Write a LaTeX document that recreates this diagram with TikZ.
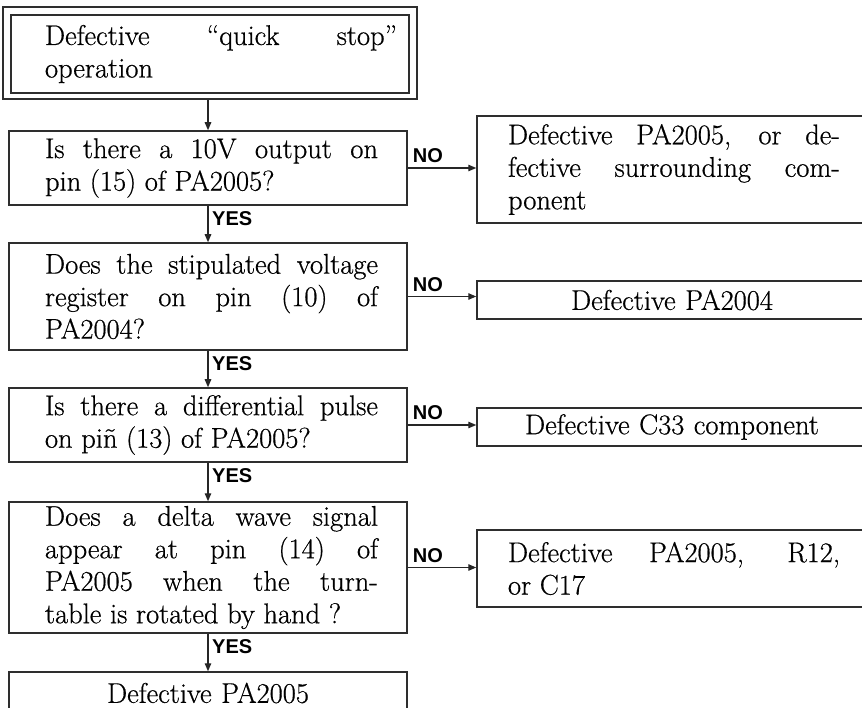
\documentclass[tikz,border=0pt]{standalone}
\usepackage{fontspec}
\newfontfamily\lblfont{Liberation Sans}
\newfontfamily\boxfont{Latin Modern Roman}[FakeBold=0.6]
\usetikzlibrary{arrows.meta}
\newcommand\TJust{\tolerance=10000 \hbadness=10000 \leftskip=34pt \rightskip=12pt \parfillskip=0pt plus 1fil\relax}
\newcommand\LJust{\tolerance=10000 \hbadness=10000 \leftskip=36pt \rightskip=29pt \parfillskip=0pt plus 1fil\relax}
\newcommand\RJust{\tolerance=10000 \hbadness=10000 \leftskip=31pt \rightskip=27pt \parfillskip=0pt plus 1fil\relax}
\begin{document}
\begin{tikzpicture}[x=1pt,y=-1pt,
  box/.style={draw=black!82, line width=1.5pt, rectangle, inner xsep=0pt, inner ysep=0pt,
    font=\boxfont\fontsize{28.5}{32.5}\selectfont},
  lbox/.style={box, minimum width=398pt, text width=398pt, align=justify},
  rbox/.style={box, minimum width=390pt, text width=390pt, align=justify},
  conn/.style={draw=black!85, line width=1.3pt, -{Triangle[length=8pt,width=6.5pt]}},
  lbl/.style={inner sep=0pt, font=\lblfont\bfseries\fontsize{20}{24}\selectfont}
]
% start box (double frame)
\node[draw=black!82, line width=1.5pt, rectangle, inner sep=0pt,
      minimum width=414pt, minimum height=92pt] (b1o) at (210,53) {};
\node[box, minimum width=398pt, text width=398pt, align=justify, minimum height=78pt] (b1) at (210,54)
  {\TJust Defective “quick stop”\linebreak operation\par};

% left column
\node[lbox, minimum height=74pt] (q1) at (208,168)
  {\LJust Is there a 10V output on\linebreak pin (15) of PA2005?\par};
\node[lbox, minimum height=107pt] (q2) at (208,296.5)
  {\LJust Does the stipulated voltage\linebreak register on pin (10) of\linebreak PA2004?\par};
\node[lbox, minimum height=74pt] (q3) at (208,425)
  {\LJust Is there a differential pulse\linebreak on piñ (13) of PA2005?\par};
\node[lbox, minimum height=131pt] (q4) at (208,567.5)
  {\LJust Does a delta wave signal\linebreak appear at pin (14) of\linebreak PA2005 when the turn-\linebreak table is rotated by hand ?\par};
\node[lbox, minimum height=42pt, align=center] (f) at (208,693) {Defective PA2005};

% right column
\node[rbox, minimum height=107pt] (r1) at (672,169.5)
  {\RJust Defective PA2005, or de-\linebreak fective surrounding com-\linebreak ponent\par};
\node[rbox, minimum height=38pt, align=center] (r2) at (672,300) {Defective PA2004};
\node[rbox, minimum height=38pt, align=center] (r3) at (672,427) {Defective C33 component};
\node[rbox, minimum height=77pt] (r4) at (672,568.5)
  {\RJust Defective PA2005, R12,\linebreak or C17\par};

% vertical connectors
\draw[conn] (b1o.south -| q1.north) -- (q1.north);
\draw[conn] (q1.south) -- (q2.north);
\draw[conn] (q2.south) -- (q3.north);
\draw[conn] (q3.south) -- (q4.north);
\draw[conn] (q4.south) -- (f.north);
\node[lbl, anchor=north west] (y1) at ([shift={(4,6)}]q1.south) {YES};
\node[lbl, anchor=north west] (y2) at ([shift={(4,6)}]q2.south) {YES};
\node[lbl, anchor=north west] (y3) at ([shift={(4,6)}]q3.south) {YES};
\node[lbl, anchor=north west] (y4) at ([shift={(4,6)}]q4.south) {YES};

% horizontal connectors
\draw[conn] (q1.east) -- (q1.east -| r1.west);
\draw[conn] (q2.east) -- (q2.east -| r2.west);
\draw[conn] (q3.east) -- (q3.east -| r3.west);
\draw[conn] (q4.east) -- (q4.east -| r4.west);
\node[lbl, anchor=base west] (n1) at ([shift={(5,-5)}]q1.east) {NO};
\node[lbl, anchor=base west] (n2) at ([shift={(5,-5)}]q2.east) {NO};
\node[lbl, anchor=base west] (n3) at ([shift={(5,-5)}]q3.east) {NO};
\node[lbl, anchor=base west] (n4) at ([shift={(5,-5)}]q4.east) {NO};

\pgfresetboundingbox
\useasboundingbox (0,0) rectangle (862,708);
\end{tikzpicture}
\end{document}
